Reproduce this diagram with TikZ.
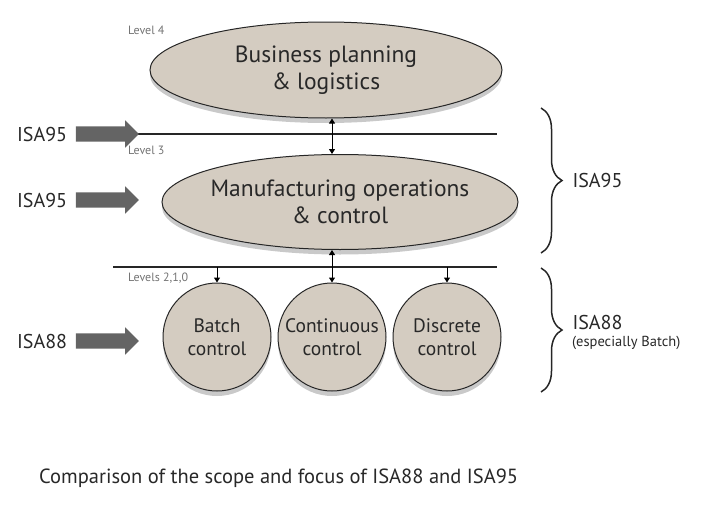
\documentclass[tikz,border=0pt]{standalone}
\usepackage{fontspec}
\setmainfont{PT Sans}
\usepackage{xcolor}
\usepackage{tikz}
\usetikzlibrary{positioning, arrows.meta, calc, shapes.geometric, shapes.arrows, shadows, decorations.pathreplacing}

\definecolor{levelfill}{RGB}{212,204,193}
\definecolor{txtdark}{RGB}{40,40,40}
\definecolor{arrowgray}{RGB}{100,100,100}

\begin{document}
\begin{tikzpicture}[
      x={(1pt,0)}, y={(0,-1pt)},
      shade box/.style={
        draw=black!85,
        line width=1pt,
        fill=levelfill,
        text=txtdark,
        align=center,
        inner sep=0pt,
        drop shadow={shadow xshift=0pt, shadow yshift=-5pt, opacity=0.3, fill=black!70}
      },
      oval/.style={
        shade box,
        ellipse,
        inner sep=-10pt,
        font=\fontsize{23.5}{27}\selectfont
      },
      unit/.style={
        shade box,
        circle,
        minimum size=108pt,
        font=\fontsize{19.5}{23}\selectfont
      },
      bigarrow/.style={
        single arrow,
        fill=arrowgray,
        draw=none,
        inner xsep=0pt,
        inner ysep=7.5pt,
        minimum width=27pt,
        minimum height=63pt,
        single arrow head extend=6pt,
        single arrow head indent=0pt
      },
      isa/.style={
        text=txtdark,
        font=\fontsize{20}{23}\selectfont
      },
      lvl/.style={
        text=black!55,
        font=\fontsize{12}{13}\selectfont,
        anchor=west,
        inner sep=0pt
      },
      bus/.style={
        line width=1.5pt,
        black!85
      },
      tip/.style={
        -{Triangle[length=5pt,width=6pt]},
        line width=1pt
      },
      dbl/.style={
        {Triangle[length=5pt,width=6pt]}-{Triangle[length=5pt,width=6pt]},
        line width=1pt
      },
      curly/.style={
        decorate,
        decoration={brace, amplitude=21pt},
        line width=1.5pt,
        black!85
      }
    ]
    \useasboundingbox (0,0) rectangle (704,522);

    % levels
    \node[oval, minimum width=352pt, minimum height=96pt] (bpl) at (326,70)
      {Business planning\\ \& logistics};
    \node[oval, minimum width=356pt, minimum height=95pt] (mfg) at (340,202)
      {Manufacturing operations\\ \& control};

    \node[unit] (batch) at (217,337) {Batch\\control};
    \node[unit] (cont) at (332,337) {Continuous\\control};
    \node[unit] (disc) at (447,337) {Discrete\\control};

    \node[lvl] (lv4) at (128,30) {Level 4};
    \node[lvl] (lv3) at (128,150) {Level 3};
    \node[lvl] (lv2) at (128,278) {Levels 2,1,0};

    % interface lines
    \coordinate (l1w) at (133,134);
    \coordinate (l1e) at (497,134);
    \coordinate (l2w) at (113,267);
    \coordinate (l2e) at (497,267);
    \draw[bus] (l1w) -- (l1e);
    \draw[bus] (l2w) -- (l2e);

    \draw[dbl] (bpl.south -| cont) -- (mfg.north -| cont);
    \draw[dbl] (mfg.south -| cont) -- (cont.north);
    \draw[tip] (batch.north |- l2w) -- (batch.north);
    \draw[tip] (disc.north |- l2w) -- (disc.north);

    % standards on the left
    \node[bigarrow] (a1) at (103.5,134) {};
    \node[bigarrow] (a2) at (103.5,200) {};
    \node[bigarrow] (a3) at (103.5,341) {};
    \node[isa, left=5pt of a1] (isa1) {ISA95};
    \node[isa, left=5pt of a2] (isa2) {ISA95};
    \node[isa, left=5pt of a3] (isa3) {ISA88};

    % scope braces
    \coordinate (b1t) at (541,108);
    \coordinate (b1b) at (541,253);
    \coordinate (b2t) at (541,268);
    \coordinate (b2b) at (541,392);
    \draw[curly] (b1t) -- (b1b);
    \draw[curly] (b2t) -- (b2b);
    \node[isa, anchor=west] (isa95r) at (569,180) {ISA95};
    \node[isa, anchor=west] (isa88r) at (569,322) {ISA88};
    \node[text=txtdark, font=\fontsize{14.5}{16}\selectfont, anchor=west, inner sep=0pt] (esp)
      at (572,343) {(especially Batch)};

    \node[text=txtdark, font=\fontsize{20.5}{23}\selectfont, anchor=west, inner sep=0pt] (caption)
      at (39,478) {Comparison of the scope and focus of ISA88 and ISA95};
\end{tikzpicture}
\end{document}
